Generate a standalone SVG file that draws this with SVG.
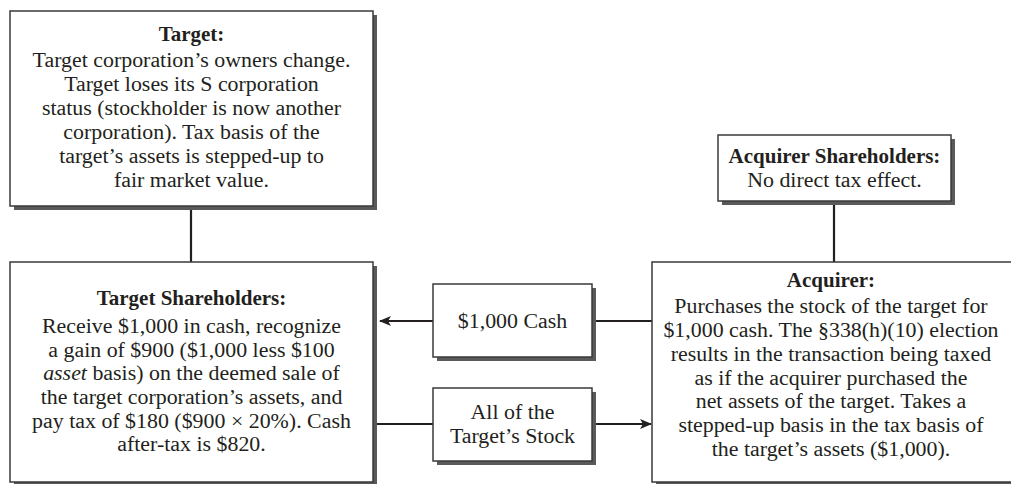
<svg xmlns="http://www.w3.org/2000/svg" width="1011" height="484" viewBox="0 0 1011 484">
<defs>
<style>
.box{fill:#fff;stroke:#3a3a3a;stroke-width:1.5}
.sh{fill:#5a5a5a}
.t{font-family:"Liberation Serif","Times New Roman",serif;font-size:21.9px;fill:#231f20;text-anchor:middle}
.b{font-weight:bold;font-size:21px}
.ln{stroke:#231f20;stroke-width:2.2;fill:none}
</style>
<marker id="ah" viewBox="0 0 12 10" refX="11" refY="5" markerWidth="12" markerHeight="10" markerUnits="userSpaceOnUse" orient="auto">
<path d="M0,0 L12,5 L0,10 L3,5 Z" fill="#231f20"/>
</marker>
</defs>
<rect width="1011" height="484" fill="#fff"/>
<g id="connectors">
<line class="ln" x1="191" y1="208" x2="191" y2="262"/>
<line class="ln" x1="834" y1="203" x2="834" y2="262"/>
<line class="ln" x1="652" y1="321" x2="594" y2="321"/>
<line class="ln" x1="433" y1="321" x2="380" y2="321" marker-end="url(#ah)"/>
<line class="ln" x1="377" y1="424" x2="433" y2="424"/>
<line class="ln" x1="594" y1="424" x2="651" y2="424" marker-end="url(#ah)"/>
</g>
<g id="target">
<rect class="sh" x="14" y="15" width="363" height="195"/>
<rect class="box" x="10" y="11" width="363" height="195"/>
<text class="t b" x="191.5" y="41">Target:</text>
<text class="t" x="191.5" y="67">Target corporation’s owners change.</text>
<text class="t" x="191.5" y="91">Target loses its S corporation</text>
<text class="t" x="191.5" y="115">status (stockholder is now another</text>
<text class="t" x="191.5" y="139">corporation). Tax basis of the</text>
<text class="t" x="191.5" y="163">target’s assets is stepped-up to</text>
<text class="t" x="191.5" y="187">fair market value.</text>
</g>
<g id="acquirer-shareholders">
<rect class="sh" x="722" y="139" width="233" height="66"/>
<rect class="box" x="718" y="135" width="233" height="66"/>
<text class="t b" x="834.5" y="163">Acquirer Shareholders:</text>
<text class="t" x="834.5" y="187">No direct tax effect.</text>
</g>
<g id="target-shareholders">
<rect class="sh" x="14" y="266" width="363" height="220"/>
<rect class="box" x="10" y="262" width="363" height="220"/>
<text class="t b" x="191.5" y="305">Target Shareholders:</text>
<text class="t" x="191.5" y="333">Receive $1,000 in cash, recognize</text>
<text class="t" x="191.5" y="357">a gain of $900 ($1,000 less $100</text>
<text class="t" x="191.5" y="380"><tspan font-style="italic">asset</tspan> basis) on the deemed sale of</text>
<text class="t" x="191.5" y="404">the target corporation’s assets, and</text>
<text class="t" x="191.5" y="428">pay tax of $180 ($900 × 20%). Cash</text>
<text class="t" x="191.5" y="451">after-tax is $820.</text>
</g>
<g id="cash">
<rect class="sh" x="437" y="288" width="159" height="73"/>
<rect class="box" x="433" y="284" width="159" height="73"/>
<text class="t" x="512.5" y="328">$1,000 Cash</text>
</g>
<g id="stock">
<rect class="sh" x="437" y="392" width="159" height="73"/>
<rect class="box" x="433" y="388" width="159" height="73"/>
<text class="t" x="512.5" y="419">All of the</text>
<text class="t" x="512.5" y="443">Target’s Stock</text>
</g>
<g id="acquirer">
<rect class="sh" x="656" y="266" width="362" height="220"/>
<rect class="box" x="652" y="262" width="362" height="220"/>
<text class="t b" x="831" y="287">Acquirer:</text>
<text class="t" x="831" y="313">Purchases the stock of the target for</text>
<text class="t" x="831" y="337">$1,000 cash. The §338(h)(10) election</text>
<text class="t" x="831" y="361">results in the transaction being taxed</text>
<text class="t" x="831" y="385">as if the acquirer purchased the</text>
<text class="t" x="831" y="408">net assets of the target. Takes a</text>
<text class="t" x="831" y="432">stepped-up basis in the tax basis of</text>
<text class="t" x="831" y="456">the target’s assets ($1,000).</text>
</g>
</svg>
